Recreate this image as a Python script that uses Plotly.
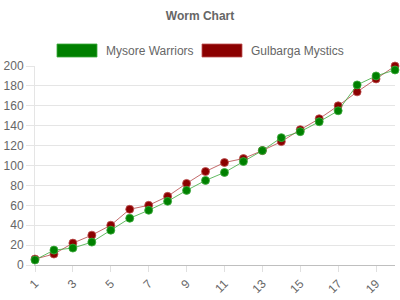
import plotly.graph_objects as go

overs = list(range(1, 21))
mysore = [5, 15, 17, 23, 35, 47, 55, 64, 75, 85, 93, 104, 115, 128, 134, 144, 155, 181, 190, 196]
gulbarga = [6, 11, 22, 30, 40, 56, 60, 69, 82, 94, 103, 107, 115, 124, 136, 147, 160, 174, 187, 200]
names = ["Mysore Warriors", "Gulbarga Mystics"]
fills = ["#008000", "#8b0000"]
borders = ["rgba(60,170,60,0.8)", "rgba(190,80,80,0.8)"]
lines = ["rgba(60,170,60,0.8)", "rgba(180,70,70,0.8)"]

fig = go.Figure()
series = [mysore, gulbarga]
for i in [1, 0]:
    fig.add_trace(go.Scatter(
        x=overs, y=series[i], mode="lines+markers", name=names[i], showlegend=False,
        cliponaxis=False,
        line=dict(color=lines[i], width=1),
        marker=dict(size=8, color=fills[i], line=dict(color=borders[i], width=1)),
    ))

font = "Liberation Sans, Arial, sans-serif"
# manual legend
leg_boxes = [(57, 97, 104), (202, 242, 249)]
shapes = []
annotations = []
for i, (x0, x1, tx) in enumerate(leg_boxes):
    shapes.append(dict(type="rect", xref="paper", yref="paper",
                       x0=(x0 - 35) / 360, x1=(x1 - 35) / 360,
                       y0=(265 - 57) / 199, y1=(265 - 44) / 199,
                       fillcolor=fills[i], line=dict(color=borders[i], width=1)))
    annotations.append(dict(text=names[i], xref="paper", yref="paper",
                            x=(tx - 35) / 360, y=(265 - 50.5) / 199,
                            xanchor="left", yanchor="middle", showarrow=False,
                            font=dict(family=font, size=12, color="#666")))

fig.update_layout(
    width=400, height=300,
    margin=dict(l=35, r=5, t=66, b=35),
    paper_bgcolor="white", plot_bgcolor="white",
    title=dict(text="<b>Worm Chart</b>", x=0.5, xanchor="center", y=1 - 16 / 300, yanchor="middle",
               font=dict(family=font, size=12, color="#666")),
    shapes=shapes, annotations=annotations,
    showlegend=False,
    xaxis=dict(range=[1, 20], tick0=1, dtick=2, showgrid=False, zeroline=False,
               showline=True, linecolor="rgba(0,0,0,0.25)", linewidth=1,
               ticks="outside", ticklen=6, tickcolor="rgba(0,0,0,0.12)",
               tickangle=-45, tickfont=dict(family=font, size=12, color="#666")),
    yaxis=dict(range=[0, 200], dtick=20, showgrid=True, gridcolor="rgba(0,0,0,0.1)",
               zeroline=False, showline=True, linecolor="rgba(0,0,0,0.1)", linewidth=1,
               ticks="outside", ticklen=8, tickcolor="rgba(0,0,0,0.1)",
               tickfont=dict(family=font, size=12, color="#666")),
)

fig.write_html("out.html")
